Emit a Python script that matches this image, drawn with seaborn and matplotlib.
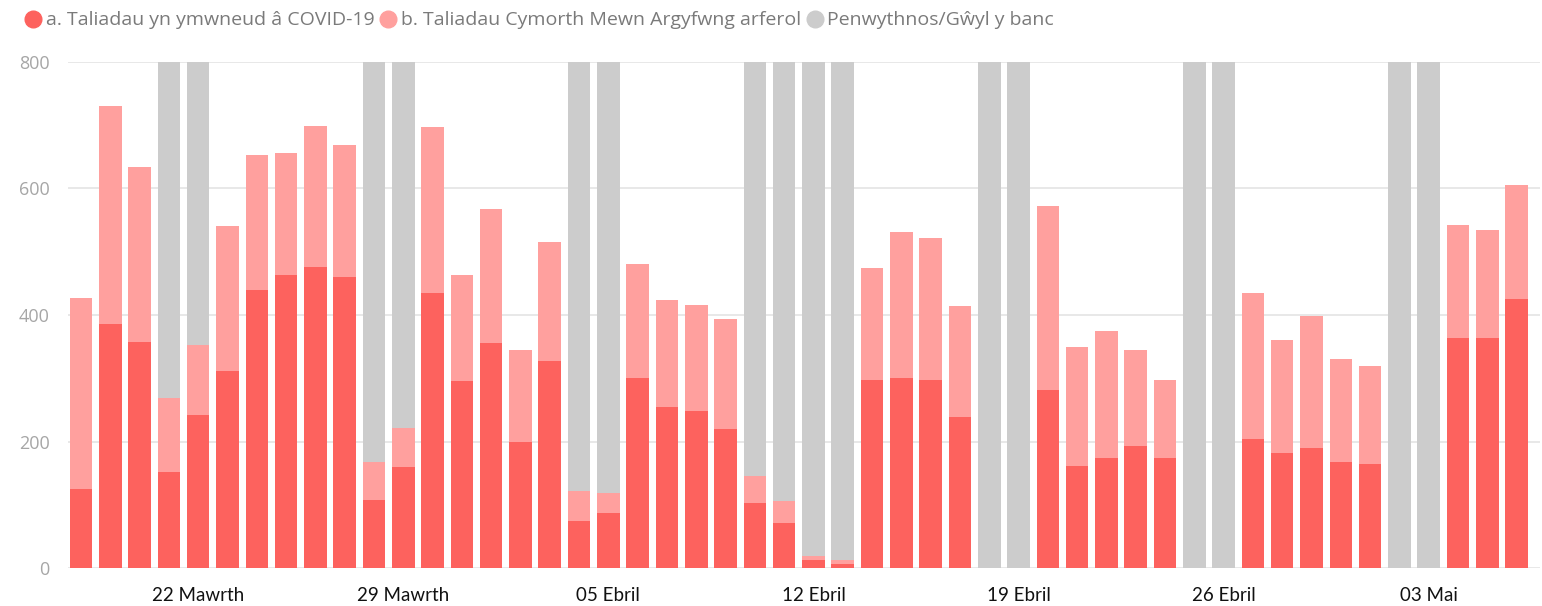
import pandas as pd
import matplotlib.pyplot as plt
from matplotlib.lines import Line2D
import seaborn as sns

sns.set_style('white')
plt.rcParams['font.family'] = ['Open Sans', 'DejaVu Sans']

# Data: daily payments, 18 Mawrth - 06 Mai
dyddiadau = pd.date_range('2020-03-18', '2020-05-06', freq='D')

# a. payments related to COVID-19
covid = [125, 386, 357, 152, 242, 312, 440, 464, 476, 460,
         107, 160, 435, 296, 355, 199, 328, 74, 87, 300,
         255, 249, 219, 102, 71, 12, 6, 297, 300, 297,
         238, 0, 0, 281, 162, 174, 193, 174, 0, 0,
         204, 182, 189, 167, 164, 0, 0, 364, 364, 425]

# b. usual emergency assistance payments
arferol = [302, 345, 277, 116, 110, 228, 213, 192, 223, 209,
           60, 62, 263, 167, 213, 145, 187, 48, 32, 180,
           169, 167, 175, 43, 35, 7, 6, 178, 231, 224,
           177, 0, 0, 291, 188, 200, 151, 124, 0, 0,
           231, 178, 210, 164, 156, 0, 0, 179, 170, 180]

# weekend / bank holiday shading
penwythnos = [0, 0, 0, 800, 800, 0, 0, 0, 0, 0,
              800, 800, 0, 0, 0, 0, 0, 800, 800, 0,
              0, 0, 0, 800, 800, 800, 800, 0, 0, 0,
              0, 800, 800, 0, 0, 0, 0, 0, 800, 800,
              0, 0, 0, 0, 0, 800, 800, 0, 0, 0]

tick_dates = ['2020-03-22', '2020-03-29', '2020-04-05', '2020-04-12',
              '2020-04-19', '2020-04-26', '2020-05-03']
tick_labels = ['22 Mawrth', '29 Mawrth', '05 Ebril', '12 Ebril',
               '19 Ebril', '26 Ebril', '03 Mai']

legend_labels = ['a. Taliadau yn ymwneud â COVID-19',
                 'b. Taliadau Cymorth Mewn Argyfwng arferol',
                 'Penwythnos/Gŵyl y banc']

red = '#FD625E'
pink = '#FFA09E'
grey = '#CCCCCC'

df = pd.DataFrame({'dyddiad': dyddiadau.strftime('%Y-%m-%d'),
                   'covid': covid, 'arferol': arferol, 'llwyd': penwythnos})
df['cyfanswm'] = df['covid'] + df['arferol']

fig = plt.figure(figsize=(15.42, 6.06), dpi=100)
ax = fig.add_axes([0.044, 0.0627, 0.9547, 0.835])

bw = 0.77
sns.barplot(data=df, x='dyddiad', y='llwyd', color=grey, width=bw,
            linewidth=0, saturation=1, ax=ax)
sns.barplot(data=df, x='dyddiad', y='cyfanswm', color=pink, width=bw,
            linewidth=0, saturation=1, ax=ax)
sns.barplot(data=df, x='dyddiad', y='covid', color=red, width=bw,
            linewidth=0, saturation=1, ax=ax)

ax.set_ylim(0, 800)
ax.set_xlim(-0.45, 49.8)
ax.set_yticks([0, 200, 400, 600, 800])
ax.yaxis.grid(True, color='#E6E6E6', linewidth=1.3)
ax.set_axisbelow(True)
ax.tick_params(axis='y', length=0, pad=13, labelsize=13, labelcolor='#A6A6A6')

pos = [list(df['dyddiad']).index(d) for d in tick_dates]
ax.set_xticks(pos)
ax.set_xticklabels(tick_labels, fontsize=13.5, color='#111111', family=['Lato', 'DejaVu Sans'])
ax.tick_params(axis='x', length=0, pad=14)
ax.set_xlabel('')
ax.set_ylabel('')
sns.despine(ax=ax, left=True, bottom=True)

handles = [Line2D([], [], marker='o', linestyle='', markersize=12, color=c)
           for c in (red, pink, grey)]
fig.legend(handles, legend_labels, loc='upper left', bbox_to_anchor=(0.004, 1.01),
           ncol=3, frameon=False, handletextpad=0.15, columnspacing=0.2,
           handlelength=1.0, fontsize=14, labelcolor='#7A7A7A')

fig.savefig('out.png', dpi=100)
